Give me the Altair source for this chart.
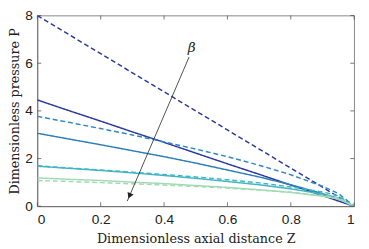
import altair as alt
import pandas as pd

# ---- data ----
Z = [0.0, 0.1, 0.2, 0.3, 0.4, 0.5, 0.6, 0.7, 0.8, 0.9, 0.95, 1.0]
P_navy_dashed = [8.0, 7.2, 6.4, 5.6, 4.8, 4.0, 3.2, 2.4, 1.6, 0.8, 0.4, 0.0]
P_navy_solid = [4.46, 4.01, 3.57, 3.12, 2.68, 2.23, 1.78, 1.34, 0.89, 0.45, 0.22, 0.0]
P_blue_dashed = [3.77, 3.52, 3.26, 2.99, 2.70, 2.40, 2.08, 1.72, 1.32, 0.84, 0.54, 0.0]
P_blue_solid = [3.06, 2.82, 2.58, 2.33, 2.08, 1.81, 1.52, 1.23, 0.90, 0.53, 0.31, 0.0]
P_teal_solid = [1.68, 1.59, 1.50, 1.40, 1.29, 1.17, 1.04, 0.90, 0.73, 0.51, 0.35, 0.0]
P_teal_dashed = [1.70, 1.60, 1.52, 1.43, 1.33, 1.23, 1.11, 0.98, 0.81, 0.60, 0.44, 0.0]
P_green_solid = [1.19, 1.13, 1.08, 1.01, 0.95, 0.87, 0.79, 0.69, 0.58, 0.42, 0.31, 0.0]
P_green_dashed = [1.08, 1.04, 0.99, 0.94, 0.89, 0.83, 0.76, 0.68, 0.59, 0.45, 0.35, 0.0]

series_names = ["navy_d", "navy_s", "blue_d", "blue_s", "teal_s", "teal_d", "green_s", "green_d"]
series_values = [P_navy_dashed, P_navy_solid, P_blue_dashed, P_blue_solid,
                 P_teal_solid, P_teal_dashed, P_green_solid, P_green_dashed]
series_colors = ["#2a3a9c", "#2a3a9c", "#2f86c8", "#2c7fb8", "#41b6c4", "#41b6c4", "#a1dab4", "#a1dab4"]
series_styles = ["dashed", "solid", "dashed", "solid", "solid", "dashed", "solid", "dashed"]

x_ticks = [0, 0.2, 0.4, 0.6, 0.8, 1]
y_ticks = [0, 2, 4, 6, 8]

arrow_Z = [0.479, 0.284]
arrow_P = [6.26, 0.22]
beta_Z = [0.487]
beta_P = [6.62]

W, H = 324, 195

rows = []
for name, vals, style in zip(series_names, series_values, series_styles):
    for z, p in zip(Z, vals):
        rows.append({"Z": z, "P": p, "series": name, "style": style})
df = pd.DataFrame(rows)

xs = alt.Scale(domain=[0, 1], nice=False, zero=False)
ys = alt.Scale(domain=[0, 8], nice=False, zero=False)

lines = alt.Chart(df).mark_line(strokeWidth=1.5, clip=True).encode(
    x=alt.X("Z:Q", scale=xs,
            axis=alt.Axis(values=x_ticks, format="~g", tickSize=0, grid=False,
                          title="Dimensionless axial distance Z",
                          labelPadding=7, titlePadding=6)),
    y=alt.Y("P:Q", scale=ys,
            axis=alt.Axis(values=y_ticks, format="~g", tickSize=0, grid=False,
                          title="Dimensionless pressure P",
                          labelPadding=5, titlePadding=3)),
    color=alt.Color("series:N", scale=alt.Scale(domain=series_names, range=series_colors), legend=None),
    strokeDash=alt.StrokeDash("style:N", scale=alt.Scale(domain=["solid", "dashed"], range=[[1, 0], [5, 3]]), legend=None),
    detail="series:N",
)

arrow_df = pd.DataFrame({"Z": arrow_Z, "P": arrow_P, "o": [0, 1]})
arrow = alt.Chart(arrow_df).mark_line(color="#222222", strokeWidth=0.8).encode(
    x=alt.X("Z:Q", scale=xs), y=alt.Y("P:Q", scale=ys), order="o:Q")

head_df = pd.DataFrame({"Z": [arrow_Z[1] + 0.008], "P": [arrow_P[1] + 0.25]})
head = alt.Chart(head_df).mark_point(shape="triangle", filled=True, color="#222222",
                                     size=45, angle=203, opacity=1).encode(
    x=alt.X("Z:Q", scale=xs), y=alt.Y("P:Q", scale=ys))

beta = alt.Chart(pd.DataFrame({"Z": beta_Z, "P": beta_P, "t": ["β"]})).mark_text(
    font="DejaVu Serif", fontStyle="italic", fontSize=14, color="#222222").encode(
    x=alt.X("Z:Q", scale=xs), y=alt.Y("P:Q", scale=ys), text="t:N")

tick_col = "#555555"
xt = pd.DataFrame({"Z": x_ticks})
yt = pd.DataFrame({"P": y_ticks})
tb = alt.Chart(xt).mark_rule(color=tick_col, strokeWidth=0.8).encode(
    x=alt.X("Z:Q", scale=xs), y=alt.value(H), y2=alt.value(H - 4))
tt = alt.Chart(xt).mark_rule(color=tick_col, strokeWidth=0.8).encode(
    x=alt.X("Z:Q", scale=xs), y=alt.value(0), y2=alt.value(4))
tl = alt.Chart(yt).mark_rule(color=tick_col, strokeWidth=0.8).encode(
    y=alt.Y("P:Q", scale=ys), x=alt.value(0), x2=alt.value(4))
tr = alt.Chart(yt).mark_rule(color=tick_col, strokeWidth=0.8).encode(
    y=alt.Y("P:Q", scale=ys), x=alt.value(W), x2=alt.value(W - 4))

chart = alt.layer(lines, arrow, head, beta, tb, tt, tl, tr).properties(
    width=W, height=H,
    autosize=alt.AutoSizeParams(type="none"),
    padding={"left": 30, "top": 5, "right": 7, "bottom": 41},
).configure_view(stroke="#666666", strokeWidth=0.8).configure_axis(
    domainColor="#666666", domainWidth=0.8,
    labelFont="Liberation Sans", labelFontSize=14, labelColor="#222222",
    titleFont="DejaVu Serif", titleFontSize=13, titleFontWeight="normal", titleColor="#222222",
)

chart.save("out.html", embed_options={"renderer": "svg", "actions": False})
